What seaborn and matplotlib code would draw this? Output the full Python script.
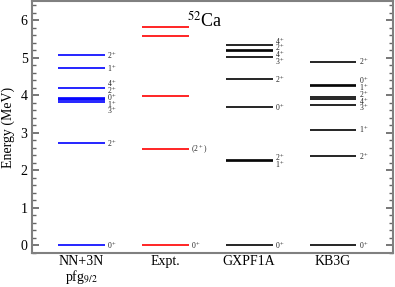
import numpy as np
import pandas as pd
import matplotlib
matplotlib.use("Agg")
import matplotlib.pyplot as plt
import seaborn as sns
from matplotlib.ticker import MultipleLocator

# ==========================================================
# 52Ca LEVEL SCHEME DATA (MeV)
# ==========================================================

models = ["NN+3N\npfg$_{9/2}$", "Expt.", "GXPF1A", "KB3G"]

nn3n_energy = [0.0, 2.72, 3.83, 3.87, 3.90, 3.93, 4.19, 4.72, 5.07]
nn3n_spin = ["0$^+$", "2$^+$", "3$^+$", "1$^+$", "0$^+$", "2$^+$", "4$^+$", "1$^+$", "2$^+$"]

expt_energy = [0.0, 2.56, 3.99, 5.59, 5.82]
expt_spin = ["0$^+$", "(2$^+$)", "", "", ""]

gxpf1a_energy = [0.0, 2.25, 2.26, 3.68, 4.42, 5.01, 5.17, 5.20, 5.33]
gxpf1a_spin = ["0$^+$", "1$^+$", "2$^+$", "0$^+$", "2$^+$", "3$^+$", "4$^+$", "2$^+$", "4$^+$"]

kb3g_energy = [0.0, 2.37, 3.08, 3.75, 3.90, 3.94, 4.25, 4.28, 4.89]
kb3g_spin = ["0$^+$", "2$^+$", "1$^+$", "3$^+$", "4$^+$", "2$^+$", "1$^+$", "0$^+$", "2$^+$"]

colors = ["#0000ff", "#ff0000", "black", "black"]

rows = []
for i, (en, sp) in enumerate([(nn3n_energy, nn3n_spin), (expt_energy, expt_spin),
                              (gxpf1a_energy, gxpf1a_spin), (kb3g_energy, kb3g_spin)]):
    for e, s in zip(en, sp):
        rows.append({"model": i + 1, "energy": e, "spin": s})
df = pd.DataFrame(rows)


def spread(values, gap):
    # push level labels apart so stacked ones stay readable
    pos = np.array(values, dtype=float)
    for _ in range(200):
        for j in range(len(pos) - 1):
            if pos[j + 1] - pos[j] < gap:
                mid = (pos[j] + pos[j + 1]) / 2
                pos[j] = mid - gap / 2
                pos[j + 1] = mid + gap / 2
    return pos


# ==========================================================
# PLOT
# ==========================================================

sns.set_theme(style="ticks")
plt.rcParams["font.family"] = ["Liberation Serif", "DejaVu Serif"]
plt.rcParams["mathtext.fontset"] = "stix"
plt.rcParams["text.color"] = "black"

fig = plt.figure(figsize=(3.95, 2.87), dpi=100)
ax = fig.add_axes([0.082, 0.12, 0.913, 0.875])

half = 0.28
for i, (key, grp) in enumerate(df.groupby("model")):
    grp = grp.sort_values("energy")
    ax.hlines(grp["energy"], key - half, key + half, color=colors[i], lw=1.2)
    lab = grp[grp["spin"] != ""]
    ypos = spread(lab["energy"].values, 0.18)
    for y, s in zip(ypos, lab["spin"]):
        ax.text(key + half + 0.03, y, s, fontsize=5.5, va="center", ha="left",
                color="#222222")

ax.text(2.47, 5.98, "$^{52}$Ca", fontsize=13, ha="center", va="center")

ax.set_xlim(0.415, 4.716)
ax.set_ylim(-0.2, 6.5)
ax.set_xticks([1, 2, 3, 4])
ax.set_xticklabels(models, fontsize=10, linespacing=0.95, color="black")
ax.yaxis.set_major_locator(MultipleLocator(1))
ax.yaxis.set_minor_locator(MultipleLocator(0.2))
ax.tick_params(axis="y", which="both", direction="in", left=True, right=True,
               color="#666666")
ax.tick_params(axis="y", which="major", length=5, labelsize=10, labelcolor="black")
ax.tick_params(axis="y", which="minor", length=3)
ax.tick_params(axis="x", length=0, labelsize=10, pad=2)
ax.set_ylabel("Energy (MeV)", fontsize=10, labelpad=4, color="black")

for sp in ax.spines.values():
    sp.set_color("#808080")
    sp.set_linewidth(1.5)

plt.savefig("out.png", dpi=100)
plt.close()
